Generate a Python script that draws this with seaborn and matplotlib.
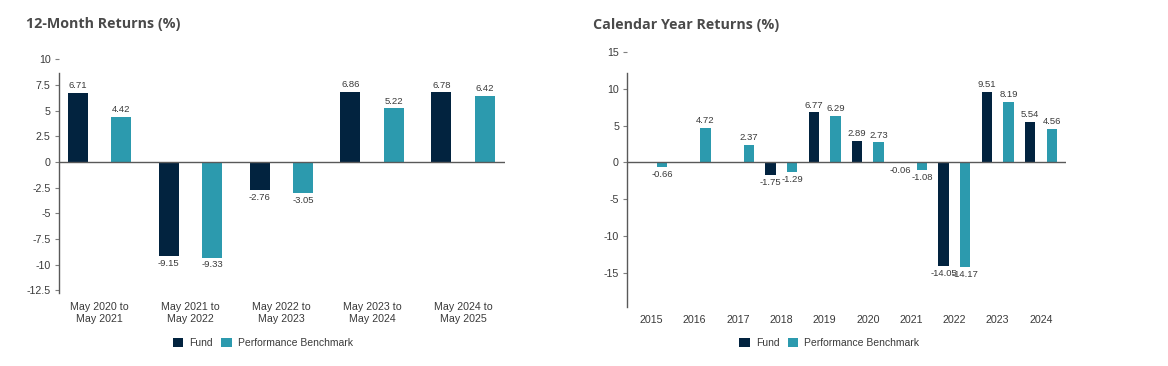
import numpy as np
import pandas as pd
import seaborn as sns
import matplotlib.pyplot as plt
from matplotlib.patches import Patch

# data
periods = ['May 2020 to\nMay 2021', 'May 2021 to\nMay 2022', 'May 2022 to\nMay 2023',
           'May 2023 to\nMay 2024', 'May 2024 to\nMay 2025']
fund_12m = [6.71, -9.15, -2.76, 6.86, 6.78]
bench_12m = [4.42, -9.33, -3.05, 5.22, 6.42]

years = ['2015', '2016', '2017', '2018', '2019', '2020', '2021', '2022', '2023', '2024']
fund_cy = [np.nan, np.nan, np.nan, -1.75, 6.77, 2.89, -0.06, -14.05, 9.51, 5.54]
bench_cy = [-0.66, 4.72, 2.37, -1.29, 6.29, 2.73, -1.08, -14.17, 8.19, 4.56]

series = ['Fund', 'Performance Benchmark']
colors = ['#02233F', '#2C9AAE']

sns.set_style('white')
plt.rcParams['font.family'] = ['Liberation Sans', 'DejaVu Sans']

fig = plt.figure(figsize=(11.68, 3.66), dpi=100)
ax1 = fig.add_axes([0.0505, 0.1986, 0.3818, 0.6393])
ax2 = fig.add_axes([0.5371, 0.1604, 0.3756, 0.6984])


def long_df(cats, fund, bench):
    return pd.DataFrame({
        'cat': cats * 2,
        'series': ['Fund'] * len(cats) + ['Performance Benchmark'] * len(cats),
        'value': fund + bench,
    })


def draw(ax, df, cats, width, gap, ylim, yticks, spine_top, xpad, xlim):
    sns.barplot(data=df, x='cat', y='value', hue='series', hue_order=series,
                order=cats, palette=colors, width=width, gap=gap, ax=ax,
                legend=False, errorbar=None, linewidth=0, saturation=1)
    for c in ax.containers:
        vals = [p.get_height() for p in c]
        ax.bar_label(c, labels=[f'{v:.2f}' for v in vals], padding=2,
                     fontsize=6.8, color='#3a3a3a')
    ax.axhline(0, color='#595959', lw=1, zorder=3)
    ax.set_ylim(*ylim)
    ax.set_xlim(*xlim)
    ax.set_yticks(yticks)
    ax.set_yticklabels([f'{v:g}' for v in yticks])
    ax.set_xlabel('')
    ax.set_ylabel('')
    for s in ['top', 'right', 'bottom']:
        ax.spines[s].set_visible(False)
    ax.spines['left'].set_bounds(ylim[0], spine_top)
    ax.spines['left'].set_color('#595959')
    ax.spines['left'].set_linewidth(1)
    ax.tick_params(axis='y', which='both', left=True, length=3, width=0.8,
                   color='#7f7f7f', labelsize=7.7, labelcolor='#3a3a3a', pad=3)
    ax.tick_params(axis='x', length=0, labelsize=7.7, labelcolor='#3a3a3a', pad=xpad)


draw(ax1, long_df(periods, fund_12m, bench_12m), periods, 0.96, 0.54,
     (-12.8, 10), [10, 7.5, 5, 2.5, 0, -2.5, -5, -7.5, -10, -12.5], 8.7, 6.5, (-0.447, 4.46))
draw(ax2, long_df(years, fund_cy, bench_cy), years, 1.0, 0.52,
     (-19.6, 15), [15, 10, 5, 0, -5, -10, -15], 12.1, 5.5, (-0.557, 9.58))

handles = [Patch(facecolor=c, edgecolor='none') for c in colors]
for x in [0.225, 0.71]:
    fig.legend(handles, series, loc='center', bbox_to_anchor=(x, 1 - 343 / 366), ncol=2,
               frameon=False, fontsize=7.5, labelcolor='#3a3a3a', handlelength=1.0,
               handleheight=1.0, handletextpad=0.6, columnspacing=0.8)

fig.text(26 / 1168, 1 - 24 / 366, '12-Month Returns (%)', fontsize=10.3, fontweight='bold',
         family='Open Sans', color='#4a4a4a', va='center', ha='left')
fig.text(593 / 1168, 1 - 25 / 366, 'Calendar Year Returns (%)', fontsize=10.3, fontweight='bold',
         family='Open Sans', color='#4a4a4a', va='center', ha='left')

fig.savefig('out.png', dpi=100)
